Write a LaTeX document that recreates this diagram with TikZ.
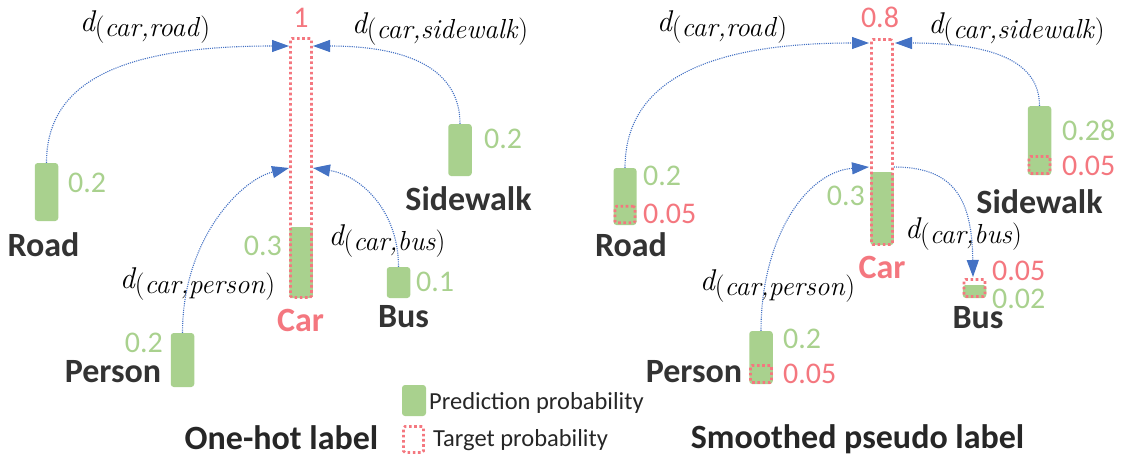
\documentclass[tikz,border=0pt]{standalone}
\usepackage{fontspec}
\setmainfont{Carlito}
\newfontfamily\lmr{Latin Modern Roman}
\usetikzlibrary{arrows.meta}
\definecolor{pgreen}{HTML}{A9D18E}
\definecolor{pred}{HTML}{F4777F}
\definecolor{pblue}{HTML}{4472C4}
\definecolor{ink}{HTML}{333333}
\definecolor{ink2}{HTML}{262626}
\newcommand{\dlab}[1]{{\lmr\fontsize{30}{32}\selectfont\itshape d}{\lmr\fontsize{27.5}{32}\selectfont\raisebox{-5pt}{(\textit{#1})}}}
\tikzset{
  gbar/.style={fill=pgreen, draw=none, rounded corners=3pt, inner sep=0pt, minimum width=23.5pt},
  tbar/.style={draw=pred, line width=2.6pt, dash pattern=on 2.6pt off 2.6pt, rounded corners=1.5pt, inner sep=0pt, minimum width=21pt},
  conn/.style={draw=pblue, line width=1.1pt, dash pattern=on 1.1pt off 1.1pt, -{Triangle[length=17pt,width=12pt]}},
  cls/.style={font=\fontsize{34}{40}\selectfont\bfseries, text=ink, inner sep=0pt, anchor=base},
  carlbl/.style={font=\fontsize{34}{40}\selectfont\bfseries, text=pred, inner sep=0pt, anchor=base},
  gnum/.style={font=\fontsize{30}{36}\selectfont, text=pgreen, inner sep=0pt},
  rnum/.style={font=\fontsize{30}{36}\selectfont, text=pred, inner sep=0pt},
  dist/.style={text=black, inner sep=0pt, anchor=base},
  title/.style={font=\fontsize{34}{40}\selectfont\bfseries, text=ink2, inner sep=0pt, anchor=base},
  legtxt/.style={font=\fontsize{24.5}{30}\selectfont, text=ink2, inner sep=0pt, anchor=base west},
}
\begin{document}
\begin{tikzpicture}[x=1pt,y=-1pt]
\useasboundingbox (0,0) rectangle (1121,458);
% ================= LEFT PANEL: one-hot =================
\node[gbar, minimum height=71pt] (carGL) at (301,262.5) {};
\node[tbar, minimum height=259pt] (carTL) at (301,168) {};
\node[gbar, minimum height=58pt] (roadGL) at (46.5,192) {};
\node[gbar, minimum height=52pt] (sideGL) at (460,150) {};
\node[gbar, minimum height=31pt] (busGL) at (398.5,282.5) {};
\node[gbar, minimum height=54pt] (persGL) at (182.5,360) {};

\node[rnum, anchor=base] (oneL) at (301,27) {1};
\node[gnum, anchor=base west] (roadvL) at (68,192) {0.2};
\node[cls] (roadnL) at (43.5,256) {Road};
\node[gnum, anchor=base west] (sidevL) at (484,148) {0.2};
\node[cls] (sidenL) at (468.5,210) {Sidewalk};
\node[gnum, anchor=base east] (carvL) at (282,255) {0.3};
\node[carlbl] (carnL) at (300.5,331) {Car};
\node[gnum, anchor=base west] (busvL) at (416,291) {0.1};
\node[cls] (busnL) at (403.5,327) {Bus};
\node[gnum, anchor=base east] (persvL) at (163,352) {0.2};
\node[cls] (persnL) at (113,382) {Person};

\node[dist] (drL) at (145,31) {\dlab{car,road}};
\node[dist] (dsL) at (440,33) {\dlab{car,sidewalk}};
\node[dist] (dbL) at (387,245) {\dlab{car,bus}};
\node[dist] (dpL) at (197.5,288) {\dlab{car,person}};

\coordinate (tLr) at (289,46);
\coordinate (tLs) at (313,46);
\coordinate (tLp) at (289,168);
\coordinate (tLb) at (313,168);
\draw[conn] (roadGL.north) .. controls (46.5,85) and (115,46) .. (tLr);
\draw[conn] (sideGL.north) .. controls (460,70) and (410,46) .. (tLs);
\draw[conn] (persGL.north) .. controls (182.5,240) and (240,180) .. (tLp);
\draw[conn] (busGL.north) .. controls (398.5,210) and (360,175) .. (tLb);

\node[title] (titleL) at (281.5,449) {One-hot label};

% ================= LEGEND =================
\node[gbar, minimum width=24pt, minimum height=31pt] (legG) at (414,400.5) {};
\node[tbar, minimum width=20pt, minimum height=26pt] (legT) at (413.5,439.5) {};
\node[legtxt] (legGt) at (429,409) {Prediction probability};
\node[legtxt] (legTt) at (433,446) {Target probability};

% ================= RIGHT PANEL: smoothed =================
\node[gbar, minimum height=73pt] (carGR) at (882,208.5) {};
\node[tbar, minimum height=205pt] (carTR) at (882,142) {};
\node[gbar, minimum height=57pt, minimum width=23pt] (roadGR) at (625,196.5) {};
\node[tbar, minimum height=16.5pt, minimum width=20pt] (roadTR) at (625,214.5) {};
\node[gbar, minimum height=69pt] (sideGR) at (1039.5,140.5) {};
\node[tbar, minimum height=17pt] (sideTR) at (1039.5,165) {};
\node[gbar, minimum height=13pt] (busGR) at (974.5,291.5) {};
\node[tbar, minimum height=17pt] (busTR) at (974.5,288) {};
\node[gbar, minimum height=53pt] (persGR) at (761,357.5) {};
\node[tbar, minimum height=17pt] (persTR) at (761,374) {};

\node[rnum, anchor=base] (eightR) at (880,27) {0.8};
\node[gnum, anchor=base west] (roadvR) at (643,185) {0.2};
\node[rnum, anchor=base west] (roadtR) at (643,223) {0.05};
\node[cls] (roadnR) at (631,256) {Road};
\node[gnum, anchor=base west] (sidevR) at (1062,140) {0.28};
\node[rnum, anchor=base west] (sidetR) at (1062,175) {0.05};
\node[cls] (sidenR) at (1039.5,213) {Sidewalk};
\node[gnum, anchor=base east] (carvR) at (865,205) {0.3};
\node[carlbl] (carnR) at (882,278) {Car};
\node[rnum, anchor=base west] (bustR) at (992,280) {0.05};
\node[gnum, anchor=base west] (busvR) at (992,308) {0.02};
\node[cls] (busnR) at (978,328) {Bus};
\node[gnum, anchor=base west] (persvR) at (783,348) {0.2};
\node[rnum, anchor=base west] (perstR) at (783,383) {0.05};
\node[cls] (persnR) at (694,382) {Person};

\node[dist] (drR) at (722,31) {\dlab{car,road}};
\node[dist] (dsR) at (1016.5,33) {\dlab{car,sidewalk}};
\node[dist] (dbR) at (963.5,238) {\dlab{car,bus}};
\node[dist] (dpR) at (777.5,290) {\dlab{car,person}};

\coordinate (tRr) at (869,43);
\coordinate (tRs) at (895,43);
\coordinate (tRp) at (869,167);
\coordinate (tRb) at (973,277);
\draw[conn] (roadGR.north) .. controls (625,85) and (700,43) .. (tRr);
\draw[conn] (sideGR.north) .. controls (1039.5,60) and (990,43) .. (tRs);
\draw[conn] (persGR.north) .. controls (761,240) and (805,172) .. (tRp);
\draw[conn] (carTR.east |- tRp) .. controls (955,167) and (972,200) .. (tRb);

\node[title] (titleR) at (857.5,448) {Smoothed pseudo label};
\end{tikzpicture}
\end{document}
